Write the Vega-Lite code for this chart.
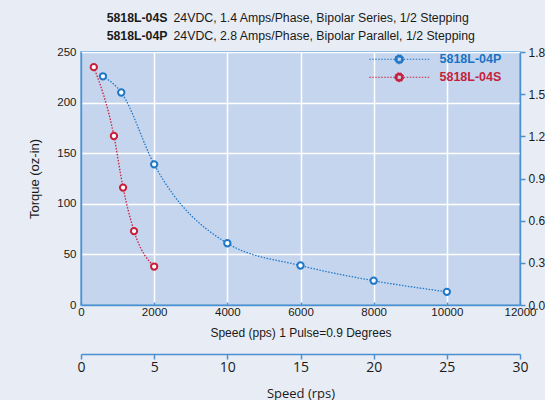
{
  "$schema": "https://vega.github.io/schema/vega-lite/v6.json",
  "width": 439,
  "height": 253,
  "padding": {"left": 28, "top": 11, "right": 0, "bottom": 0},
  "background": "#e8edf5",
  "config": {
    "view": {"fill": "#c6d5ee", "stroke": "#4a90d0", "strokeWidth": 1.5},
    "axis": {
      "domainColor": "#4a90d0", "domainWidth": 1.5, "tickColor": "#4a90d0", "tickWidth": 1.5,
      "gridColor": "#ffffff", "gridWidth": 1.5, "gridOpacity": 1,
      "labelFont": "Liberation Sans", "titleFont": "Liberation Sans",
      "labelColor": "#1a1a1a", "titleColor": "#1a1a1a", "titleFontWeight": "normal",
      "labelFontSize": 11.5, "titleFontSize": 12
    }
  },
  "layer": [
    {
      "data": {"values": [
        {"series": "5818L-04P", "pps": 600, "torque": 226},
        {"series": "5818L-04P", "pps": 1100, "torque": 210},
        {"series": "5818L-04P", "pps": 2000, "torque": 139},
        {"series": "5818L-04P", "pps": 4000, "torque": 61},
        {"series": "5818L-04P", "pps": 6000, "torque": 39},
        {"series": "5818L-04P", "pps": 8000, "torque": 24},
        {"series": "5818L-04P", "pps": 10000, "torque": 13},
        {"series": "5818L-04S", "pps": 350, "torque": 235},
        {"series": "5818L-04S", "pps": 900, "torque": 167},
        {"series": "5818L-04S", "pps": 1150, "torque": 116},
        {"series": "5818L-04S", "pps": 1450, "torque": 73},
        {"series": "5818L-04S", "pps": 2000, "torque": 38}
      ]},
      "encoding": {
        "x": {"field": "pps", "type": "quantitative", "scale": {"domain": [0, 12000], "nice": false},
              "axis": {"values": [0, 2000, 4000, 6000, 8000, 10000, 12000], "format": "d", "title": "Speed (pps) 1 Pulse=0.9 Degrees",
                       "tickSize": -3, "labelPadding": 4, "titlePadding": 10, "labelFlush": false}},
        "y": {"field": "torque", "type": "quantitative", "scale": {"domain": [0, 250], "nice": false},
              "axis": {"values": [0, 50, 100, 150, 200, 250], "title": "Torque (oz-in)", "titleFontSize": 13, "ticks": false, "labelPadding": 5, "titlePadding": 15}},
        "color": {"field": "series", "type": "nominal",
                  "scale": {"domain": ["5818L-04P", "5818L-04S"], "range": ["#1e78c8", "#c8203c"]},
                  "legend": {
                    "orient": "none", "legendX": 312, "legendY": 1, "title": null, "padding": 0,
                    "symbolType": "M-6,0H-0.9M0.9,0H6M-0.9,0A0.9,0.9 0 1,0 0.9,0A0.9,0.9 0 1,0 -0.9,0ZM-0.42,0A0.42,0.42 0 1,1 0.42,0A0.42,0.42 0 1,1 -0.42,0Z",
                    "symbolSize": 100, "symbolStrokeWidth": 1, "symbolDash": [1.5, 1.5],
                    "labelOffset": 34, "labelFont": "Liberation Sans", "labelFontSize": 12.5, "labelFontWeight": "bold",
                    "rowPadding": 4,
                    "encode": {
                      "symbols": {"update": {
                        "fill": {"signal": "datum.value === '5818L-04P' ? '#1e78c8' : '#c8203c'"},
                        "stroke": {"signal": "datum.value === '5818L-04P' ? '#1e78c8' : '#c8203c'"},
                        "opacity": {"value": 1}}},
                      "labels": {"update": {
                        "fill": {"signal": "datum.value === '5818L-04P' ? '#1a73c2' : '#c41f3b'"}}}
                    }
                  }}
      },
      "layer": [
        {"mark": {"type": "line", "interpolate": "monotone", "strokeDash": [1.5, 1.5], "strokeWidth": 1.3}},
        {"mark": {"type": "point", "filled": false, "fill": "white", "size": 40, "strokeWidth": 2, "opacity": 1}}
      ]
    },
    {
      "data": {"values": [{"rps": 0, "nm": 0}, {"rps": 30, "nm": 1.8}]},
      "mark": {"type": "point", "opacity": 0},
      "encoding": {
        "x": {"field": "rps", "type": "quantitative", "scale": {"domain": [0, 30], "nice": false},
              "axis": {"orient": "bottom", "offset": 49, "values": [0, 5, 10, 15, 20, 25, 30], "title": "Speed (rps)",
                       "grid": false, "tickSize": 5, "labelPadding": 1, "titlePadding": 13, 
                       "labelFont": "Open Sans", "titleFont": "Open Sans", "labelFontSize": 14, "titleFontSize": 13, "labelFlush": false}},
        "y": {"field": "nm", "type": "quantitative", "scale": {"domain": [0, 1.8], "nice": false},
              "axis": {"orient": "right", "values": [0, 0.3, 0.6, 0.9, 1.2, 1.5, 1.8], "format": ".1f", "title": null,
                       "grid": false, "tickSize": 5, "labelPadding": 3, "labelFontSize": 12}}
      }
    },
    {
      "data": {"values": [{"v": 0}]},
      "mark": {"type": "point", "opacity": 0},
      "encoding": {
        "x": {"field": "v", "type": "quantitative", "scale": {"domain": [0, 1]},
              "axis": {"orient": "top", "domain": false, "ticks": false, "labels": false, "grid": false,
                       "title": ["5818L-04S", "5818L-04P"], "titleFontWeight": "bold", "titleFontSize": 12.3,
                       "titleAlign": "right", "titleBaseline": "alphabetic", "titleX": 86, "titleY": -31, "titleLineHeight": 18.5, "titleAngle": 0}},
        "y": {"field": "v", "type": "quantitative", "axis": null}
      }
    },
    {
      "data": {"values": [{"w": 0}]},
      "mark": {"type": "point", "opacity": 0},
      "encoding": {
        "x": {"field": "w", "type": "quantitative", "scale": {"domain": [0, 1]},
              "axis": {"orient": "top", "domain": false, "ticks": false, "labels": false, "grid": false,
                       "title": ["24VDC, 1.4 Amps/Phase, Bipolar Series, 1/2 Stepping", "24VDC, 2.8 Amps/Phase, Bipolar Parallel, 1/2 Stepping"],
                       "titleFontSize": 12.3, "titleAlign": "left", "titleBaseline": "alphabetic", "titleX": 92, "titleY": -31, "titleLineHeight": 18.5, "titleAngle": 0}},
        "y": {"field": "w", "type": "quantitative", "axis": null}
      }
    }
  ],
  "resolve": {"scale": {"x": "independent", "y": "independent"}}
}
